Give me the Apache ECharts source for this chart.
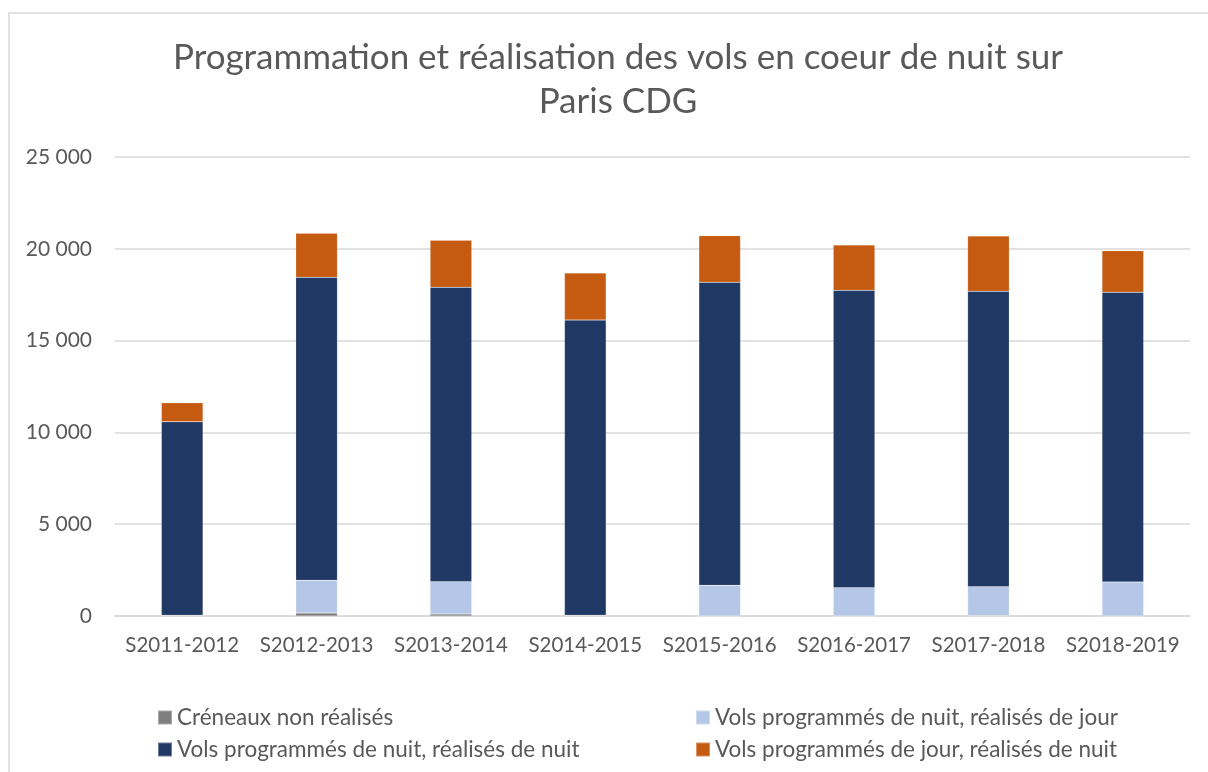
<!DOCTYPE html>
<html>
<head>
<meta charset="utf-8">
<script src="https://cdn.jsdelivr.net/npm/echarts@6/dist/echarts.min.js"></script>
<style>
  html, body { margin: 0; padding: 0; background: #ffffff; }
  #chart { width: 1208px; height: 772px; }
</style>
</head>
<body>
<div id="chart"></div>
<script>
// Night-time flights at Paris CDG, per season
const seasons = ['S2011-2012', 'S2012-2013', 'S2013-2014', 'S2014-2015',
                 'S2015-2016', 'S2016-2017', 'S2017-2018', 'S2018-2019'];

const creneauxNonRealises = [40, 170, 110, 40, 0, 0, 30, 0];
const nuitRealisesJour   = [0, 1774, 1760, 0, 1671, 1543, 1567, 1852];
const nuitRealisesNuit   = [10540, 16504, 16033, 16080, 16504, 16195, 16086, 15778];
const jourRealisesNuit   = [1035, 2396, 2560, 2560, 2539, 2469, 3014, 2268];

const seriesNames = [
  'Créneaux non réalisés',
  'Vols programmés de nuit, réalisés de jour',
  'Vols programmés de nuit, réalisés de nuit',
  'Vols programmés de jour, réalisés de nuit'
];
const seriesColors = ['#7f7f7f', '#b4c7e7', '#203864', '#c55a11'];
const seriesData = [creneauxNonRealises, nuitRealisesJour, nuitRealisesNuit, jourRealisesNuit];

const font = 'Lato, "Open Sans", sans-serif';
const textColor = '#595959';

const chart = echarts.init(document.getElementById('chart'), null, { renderer: 'canvas' });

const legendText = { color: textColor, fontSize: 22.5, lineHeight: 22, fontFamily: font };

chart.setOption({
  backgroundColor: '#ffffff',
  animation: false,
  title: {
    text: 'Programmation et réalisation des vols en coeur de nuit sur\nParis CDG',
    left: 613,
    top: 31,
    textAlign: 'center',
    textStyle: {
      color: textColor,
      fontSize: 35,
      fontWeight: 'normal',
      fontFamily: font,
      lineHeight: 44
    }
  },
  graphic: [{
    type: 'rect',
    shape: { x: 9, y: 13, width: 1230, height: 800 },
    style: { fill: 'none', stroke: '#d9d9d9', lineWidth: 1.5 },
    silent: true,
    z: -1
  }],
  legend: [{
    orient: 'vertical',
    left: 157,
    top: 706,
    padding: 0,
    itemWidth: 14,
    itemHeight: 14,
    itemGap: 9,
    icon: 'rect',
    data: [seriesNames[0], seriesNames[2]],
    textStyle: legendText
  }, {
    orient: 'vertical',
    left: 695,
    top: 706,
    padding: 0,
    itemWidth: 14,
    itemHeight: 14,
    itemGap: 9,
    icon: 'rect',
    data: [seriesNames[1], seriesNames[3]],
    textStyle: legendText
  }],
  grid: { left: 115, right: 18, top: 157, bottom: 156, containLabel: false },
  xAxis: {
    type: 'category',
    data: seasons,
    axisLine: { lineStyle: { color: '#d9d9d9', width: 1.5 } },
    axisTick: { show: false },
    axisLabel: {
      color: textColor,
      fontSize: 20.5,
      fontFamily: font,
      margin: 19,
      interval: 0,
      hideOverlap: false
    }
  },
  yAxis: {
    type: 'value',
    min: 0,
    max: 25000,
    interval: 5000,
    axisLine: { show: false },
    axisTick: { show: false },
    splitLine: { lineStyle: { color: '#d9d9d9', width: 1.5 } },
    axisLabel: {
      color: textColor,
      fontSize: 21,
      fontFamily: font,
      margin: 23,
      formatter: v => String(v).replace(/\B(?=(\d{3})+(?!\d))/g, ' ')
    }
  },
  series: seriesNames.map((name, i) => ({
    name,
    type: 'bar',
    stack: 'total',
    barWidth: '31%',
    data: seriesData[i],
    itemStyle: {
      color: seriesColors[i],
      borderColor: 'rgba(255,255,255,0.35)',
      borderWidth: 0.5
    }
  }))
});
</script>
</body>
</html>
